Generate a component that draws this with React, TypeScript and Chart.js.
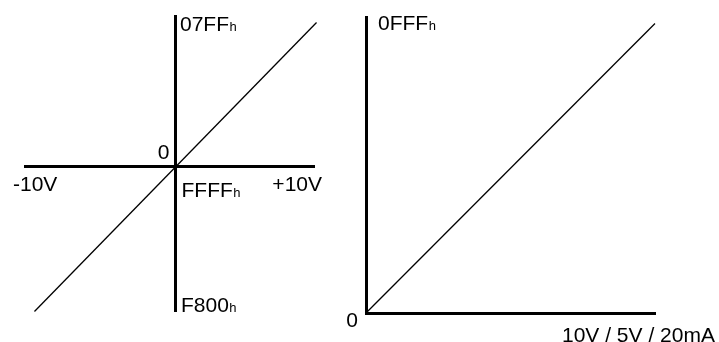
import React, { useEffect, useRef } from 'react';
import { Chart, registerables } from 'chart.js';

Chart.register(...registerables);

// ---- Left diagram: bipolar input (±10 V) → 12-bit two's-complement code ----
const bipolarVolts = [-10, 10];
const bipolarCodes = [-2048, 2047]; // F800h .. 07FFh
const bipolarXRange = [-10.67, 9.82];
const bipolarYRange = [-2048, 2140];
const bipolarXLabels = ['-10V', '+10V'];
const bipolarYLabels = ['F800', '07FF'];
const bipolarZeroLabels = ['0', 'FFFF'];

// ---- Right diagram: unipolar input (% of full scale) → 0000h .. 0FFFh ----
const unipolarInput = [0, 100];
const unipolarCodes = [0, 4095];
const unipolarXRange = [0, 100];
const unipolarYRange = [0, 4180];
const unipolarXLabel = '10V / 5V / 20mA';
const unipolarYLabel = '0FFF';
const unipolarZeroLabel = '0';

const hexSuffix = 'h';

const FONT_FAMILY = '"Liberation Sans", Arial, Helvetica, sans-serif';
const MAIN_FONT = `21px ${FONT_FAMILY}`;
const SUB_FONT = `13px ${FONT_FAMILY}`;

function drawText(
  ctx: CanvasRenderingContext2D,
  text: string,
  x: number,
  y: number,
  align: CanvasTextAlign = 'left',
  sub?: string
) {
  ctx.save();
  ctx.fillStyle = '#000';
  ctx.textBaseline = 'alphabetic';
  ctx.font = MAIN_FONT;
  const w = ctx.measureText(text).width;
  let subW = 0;
  if (sub) {
    ctx.font = SUB_FONT;
    subW = ctx.measureText(sub).width;
    ctx.font = MAIN_FONT;
  }
  let startX = x;
  if (align === 'right') startX = x - w - subW;
  else if (align === 'center') startX = x - (w + subW) / 2;
  ctx.textAlign = 'left';
  ctx.fillText(text, startX, y);
  if (sub) {
    ctx.font = SUB_FONT;
    ctx.fillText(sub, startX + w + 0.5, y);
  }
  ctx.restore();
}

const bipolarLabelsPlugin = {
  id: 'bipolarLabels',
  afterDraw(chart: any) {
    const ctx = chart.ctx as CanvasRenderingContext2D;
    const xs = chart.scales.x;
    const ys = chart.scales.y;
    const area = chart.chartArea;
    const ox = xs.getPixelForValue(0);
    const oy = ys.getPixelForValue(0);
    drawText(ctx, bipolarYLabels[1], ox + 4.5, area.top + 15, 'left', hexSuffix);
    drawText(ctx, bipolarYLabels[0], ox + 5.5, area.bottom, 'left', hexSuffix);
    drawText(ctx, bipolarXLabels[0], area.left - 12, oy + 24, 'left');
    drawText(ctx, bipolarXLabels[1], area.right + 8, oy + 24, 'right');
    drawText(ctx, bipolarZeroLabels[0], ox - 6, oy - 8, 'right');
    drawText(ctx, bipolarZeroLabels[1], ox + 6, oy + 30, 'left', hexSuffix);
  },
};

const unipolarLabelsPlugin = {
  id: 'unipolarLabels',
  afterDraw(chart: any) {
    const ctx = chart.ctx as CanvasRenderingContext2D;
    const xs = chart.scales.x;
    const ys = chart.scales.y;
    const area = chart.chartArea;
    const ox = xs.getPixelForValue(0);
    const oy = ys.getPixelForValue(0);
    drawText(ctx, unipolarYLabel, ox + 12, area.top + 12.5, 'left', hexSuffix);
    drawText(ctx, unipolarZeroLabel, ox - 8, oy + 14, 'right');
    drawText(ctx, unipolarXLabel, ox + 196, oy + 29, 'left');
  },
};

function axisOptions(min: number, max: number, position: any) {
  return {
    type: 'linear' as const,
    min,
    max,
    position,
    offset: false,
    grid: { display: false, drawTicks: false },
    border: { display: true, width: 3, color: '#000' },
    ticks: { display: false },
    title: { display: false },
  };
}

function makeConfig(
  xVals: number[],
  yVals: number[],
  xRange: number[],
  yRange: number[],
  padding: any,
  plugin: any
) {
  return {
    type: 'line' as const,
    data: {
      datasets: [
        {
          data: xVals.map((x, i) => ({ x, y: yVals[i] })),
          borderColor: '#000',
          borderWidth: 1.3,
          pointRadius: 0,
          fill: false,
          tension: 0,
          clip: false as any,
        },
      ],
    },
    options: {
      responsive: false,
      animation: false as const,
      events: [] as any,
      devicePixelRatio: 1,
      layout: { padding },
      plugins: {
        legend: { display: false },
        tooltip: { enabled: false },
        title: { display: false },
      },
      scales: {
        x: axisOptions(xRange[0], xRange[1], { y: 0 }),
        y: axisOptions(yRange[0], yRange[1], { x: 0 }),
      },
    },
    plugins: [plugin],
  };
}

function ChartCanvas({ config, width, height, left }: any) {
  const ref = useRef<HTMLCanvasElement | null>(null);
  useEffect(() => {
    if (!ref.current) return;
    const chart = new Chart(ref.current, config);
    return () => chart.destroy();
  }, [config]);
  return (
    <canvas
      ref={ref}
      width={width}
      height={height}
      style={{ position: 'absolute', left, top: 0, width, height, display: 'block' }}
    />
  );
}

const leftConfig = makeConfig(
  bipolarVolts,
  bipolarCodes,
  bipolarXRange,
  bipolarYRange,
  { left: 25, right: 26, top: 16, bottom: 30.5 },
  bipolarLabelsPlugin
);

const rightConfig = makeConfig(
  unipolarInput,
  unipolarCodes,
  unipolarXRange,
  unipolarYRange,
  { left: 26, right: 64, top: 17.5, bottom: 29 },
  unipolarLabelsPlugin
);

export default function App() {
  return (
    <div
      style={{
        position: 'absolute',
        left: 0,
        top: 0,
        width: 719,
        height: 342,
        background: '#fff',
        overflow: 'hidden',
      }}
    >
      <ChartCanvas config={leftConfig} width={340} height={342} left={0} />
      <ChartCanvas config={rightConfig} width={379} height={342} left={340} />
    </div>
  );
}
